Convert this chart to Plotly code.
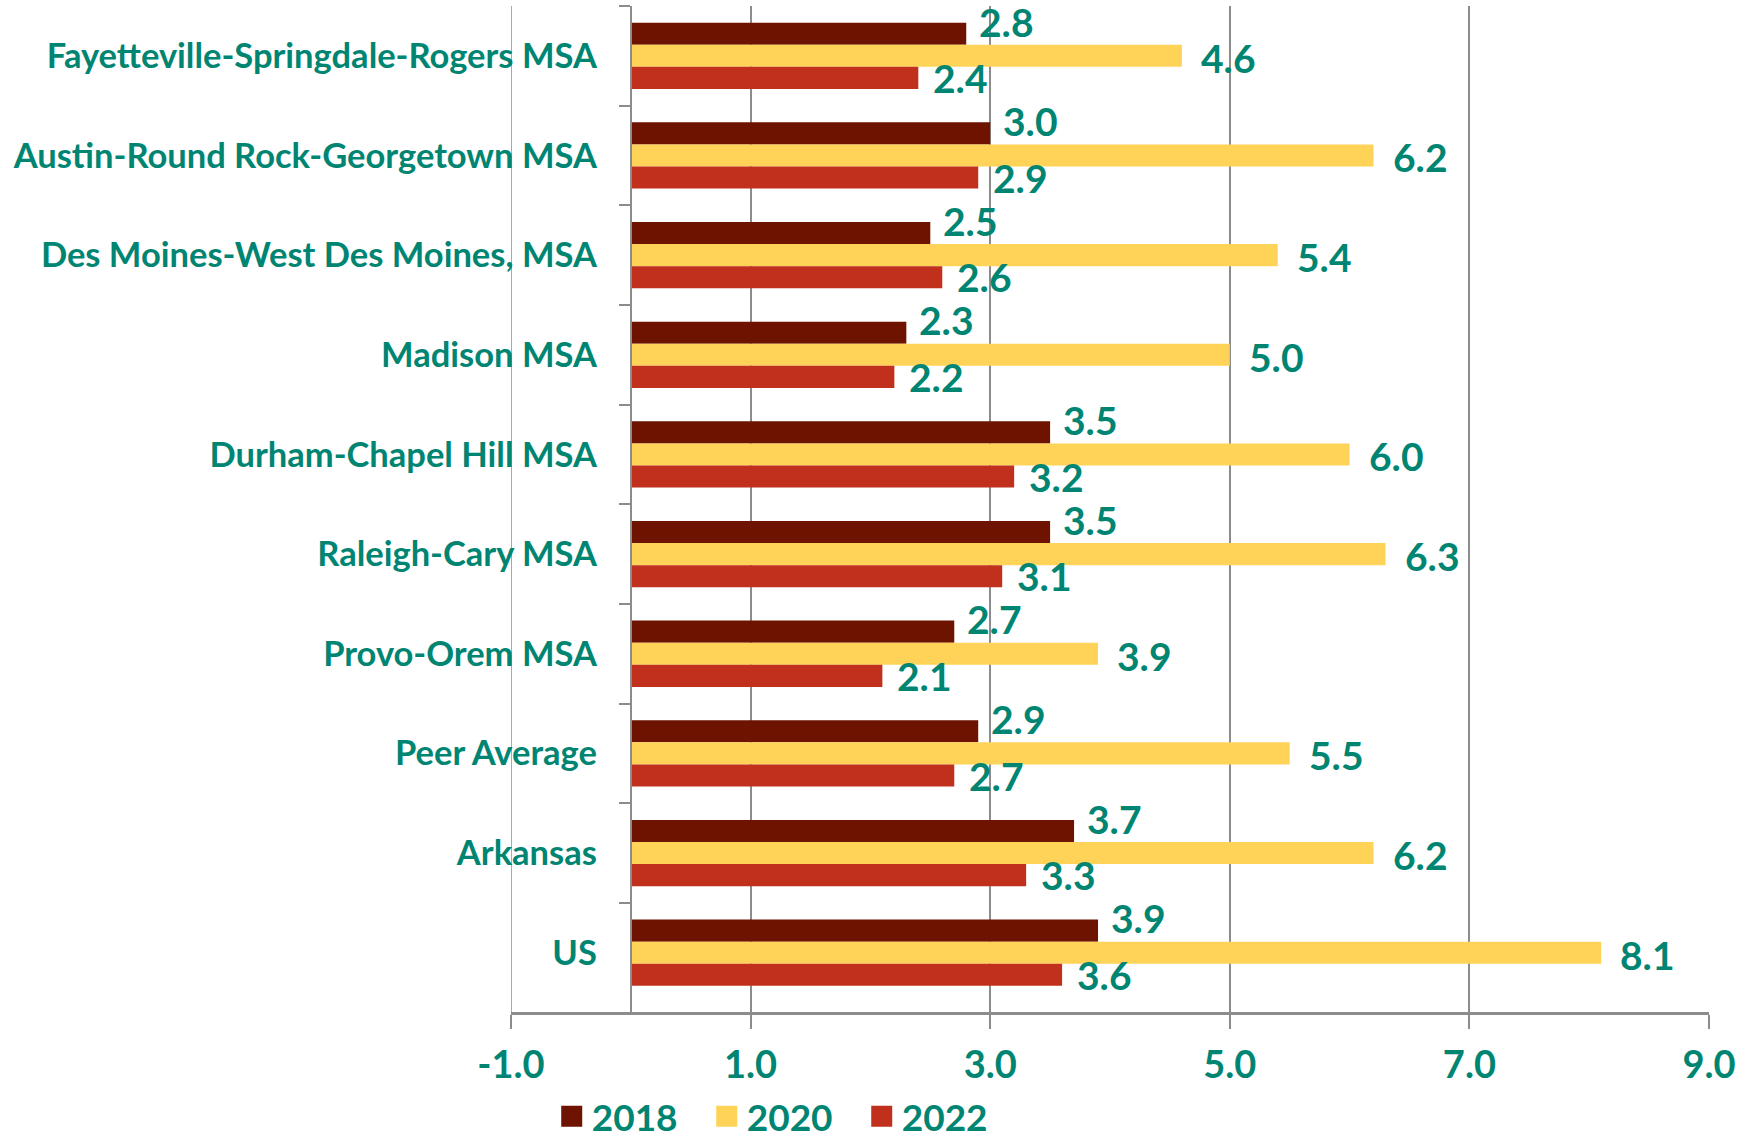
import plotly.graph_objects as go

# data, top to bottom as in the chart
categories = [
    "Fayetteville-Springdale-Rogers MSA",
    "Austin-Round Rock-Georgetown MSA",
    "Des Moines-West Des Moines, MSA",
    "Madison MSA",
    "Durham-Chapel Hill MSA",
    "Raleigh-Cary MSA",
    "Provo-Orem MSA",
    "Peer Average",
    "Arkansas",
    "US",
]
years = ["2018", "2020", "2022"]
values_2018 = [2.8, 3.0, 2.5, 2.3, 3.5, 3.5, 2.7, 2.9, 3.7, 3.9]
values_2020 = [4.6, 6.2, 5.4, 5.0, 6.0, 6.3, 3.9, 5.5, 6.2, 8.1]
values_2022 = [2.4, 2.9, 2.6, 2.2, 3.2, 3.1, 2.1, 2.7, 3.3, 3.6]
x_ticks = [-1, 1, 3, 5, 7, 9]

TEAL = "#008572"
GRID = "#8c8c8c"
FONT = "Lato"
colors = {"2018": "#6d1300", "2020": "#ffd357", "2022": "#c0301c"}

W, H = 1754, 1137
M_L, M_R, M_T, M_B = 511, 45, 6, 125
BARGAP = 0.335

series = dict(zip(years, [values_2018, values_2020, values_2022]))

fig = go.Figure()
for yr in years:
    fig.add_trace(go.Bar(
        y=categories, x=series[yr], orientation="h", name=yr,
        marker=dict(color=colors[yr], line=dict(width=0)),
        showlegend=False, hoverinfo="x+name",
    ))
    # legend proxy so the legend swatch can be larger than the bar default
    fig.add_trace(go.Scatter(
        x=[None], y=[None], mode="markers", name=yr,
        marker=dict(symbol="square", size=24, color=colors[yr],
                    line=dict(color=colors[yr], width=8)),
    ))

# value labels next to the bar ends (offsets mimic the Excel placement)
plot_h = H - M_T - M_B
bar_px = plot_h / len(categories) * (1 - BARGAP) / 3
label_shift = {"2018": (11, bar_px + 12), "2020": (17, -2), "2022": (13, -bar_px)}
for yr in years:
    dx, dy = label_shift[yr]
    for cat, v in zip(categories, series[yr]):
        fig.add_annotation(
            x=v, y=cat, text=f"{v:.1f}", showarrow=False,
            xanchor="left", yanchor="middle", xshift=dx, yshift=dy,
            font=dict(family=FONT, size=39, color=TEAL, weight="bold"),
        )

# left-most gridline (plotly drops it at the range edge)
fig.add_shape(type="line", xref="x", yref="paper", x0=x_ticks[0], x1=x_ticks[0],
              y0=0, y1=1, line=dict(color=GRID, width=1.5), layer="below")

fig.update_xaxes(
    range=[-1, 9], tickvals=x_ticks, ticktext=[f"{t:.1f}" for t in x_ticks],
    showgrid=True, gridcolor=GRID, gridwidth=1.5, zeroline=False,
    showline=True, linecolor=GRID, linewidth=2.5,
    ticks="outside", ticklen=14, tickcolor=GRID, tickwidth=1.5,
    tickfont=dict(family=FONT, size=38, color=TEAL, weight="bold"),
    ticklabelstandoff=4,
)
fig.update_yaxes(
    type="category", categoryorder="array", categoryarray=categories,
    autorange="reversed", anchor="free", position=0.1,
    showgrid=False, zeroline=False,
    showline=True, linecolor=GRID, linewidth=2,
    ticks="outside", ticklen=11, tickcolor=GRID, tickwidth=2,
    tickson="boundaries",
    tickfont=dict(family=FONT, size=34.5, color=TEAL, weight="bold"),
    ticklabelstandoff=26,
)

fig.update_layout(
    width=W, height=H,
    barmode="group", bargap=BARGAP, bargroupgap=0,
    margin=dict(l=M_L, r=M_R, t=M_T, b=M_B, autoexpand=False),
    paper_bgcolor="white", plot_bgcolor="white",
    legend=dict(
        orientation="h", x=0.034, xanchor="left", y=-0.104, yanchor="middle",
        font=dict(family=FONT, size=37, color=TEAL, weight="bold"),
        entrywidth=110, entrywidthmode="pixels",
        bgcolor="rgba(0,0,0,0)",
    ),
)

# drop the default 8px body margin so the figure sits at the page corner
fig.write_html("out.html", config={"displayModeBar": False},
               post_script="document.body.style.margin='0';")
